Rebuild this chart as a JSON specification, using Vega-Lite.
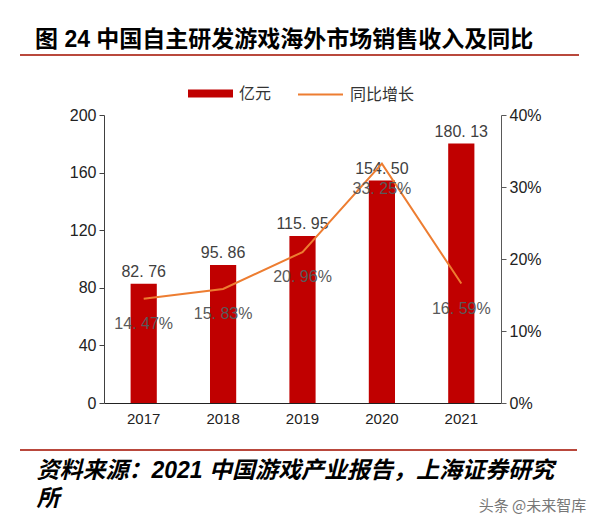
{
  "$schema": "https://vega.github.io/schema/vega-lite/v6.json",
  "width": 397,
  "height": 288,
  "autosize": {"type": "none"},
  "padding": {"left": 104, "top": 115, "right": 99, "bottom": 120},
  "background": "white",
  "config": {
    "font": "Liberation Sans, Noto Sans CJK SC",
    "view": {"stroke": null},
    "axis": {"grid": false}
  },
  "title": {
    "text": "图 24 中国自主研发游戏海外市场销售收入及同比",
    "anchor": "start",
    "frame": "group",
    "dx": -69,
    "offset": 2,
    "fontSize": 23,
    "fontWeight": "bold",
    "color": "#000000",
    "font": "Liberation Sans, Noto Sans CJK SC"
  },
  "data": {
    "values": [
      {"year": "2017", "rev": 82.76, "rl": "82. 76", "g": 0.1447, "gl": "14. 47%"},
      {"year": "2018", "rev": 95.86, "rl": "95. 86", "g": 0.1583, "gl": "15. 83%"},
      {"year": "2019", "rev": 115.95, "rl": "115. 95", "g": 0.2096, "gl": "20. 96%"},
      {"year": "2020", "rev": 154.5, "rl": "154. 50", "g": 0.3325, "gl": "33. 25%"},
      {"year": "2021", "rev": 180.13, "rl": "180. 13", "g": 0.1659, "gl": "16. 59%"}
    ]
  },
  "layer": [
    {
      "layer": [
        {
          "mark": {"type": "bar"},
          "encoding": {
            "x": {
              "field": "year",
              "type": "nominal",
              "scale": {"paddingInner": 0.67, "paddingOuter": 0.335},
              "axis": {
                "labelAngle": 0,
                "labelFontSize": 15,
                "labelColor": "#222222",
                "labelPadding": 8,
                "ticks": false,
                "domainColor": "#222222",
                "domainWidth": 1,
                "title": ["资料来源：2021  中国游戏产业报告，上海证券研究", "所"],
                "titleX": -68,
                "titleY": 67,
                "titleAlign": "left",
                "titleAnchor": "start",
                "titleBaseline": "middle",
                "titleFontSize": 23,
                "titleFontWeight": "bold",
                "titleFontStyle": "italic",
                "titleColor": "#000000",
                "titleLineHeight": 28
              }
            },
            "y": {
              "field": "rev",
              "type": "quantitative",
              "scale": {"domain": [0, 200]},
              "axis": {
                "values": [0, 40, 80, 120, 160, 200],
                "title": null,
                "labelFontSize": 16,
                "labelColor": "#222222",
                "labelPadding": 3,
                "tickSize": 5,
                "tickColor": "#404040",
                "domainColor": "#404040"
              }
            },
            "fill": {
              "datum": "亿元",
              "scale": {"range": ["#C00000"]},
              "legend": {
                "orient": "none",
                "legendX": 84,
                "legendY": -44,
                "title": null,
                "symbolType": "M-1,-0.18H1V0.18H-1Z",
                "symbolSize": 2025,
                "symbolStrokeWidth": 0,
                "labelFontSize": 16,
                "labelColor": "#333333",
                "labelFont": "Noto Sans CJK SC",
                "labelOffset": 6
              }
            }
          }
        },
        {
          "mark": {"type": "text", "dy": -12, "fontSize": 16, "color": "#404040"},
          "encoding": {
            "x": {"field": "year", "type": "nominal"},
            "y": {"field": "rev", "type": "quantitative"},
            "text": {"field": "rl"}
          }
        },
        {
          "data": {"values": [{"pos": "top"}]},
          "mark": {"type": "rule", "color": "#B9483C", "strokeWidth": 2},
          "encoding": {
            "x": {"value": -84},
            "x2": {"value": 475},
            "y": {"value": -60}
          }
        },
        {
          "data": {"values": [{"pos": "bottom"}]},
          "mark": {"type": "rule", "color": "#B9483C", "strokeWidth": 2},
          "encoding": {
            "x": {"value": -84},
            "x2": {"value": 473},
            "y": {"value": 335}
          }
        }
      ]
    },
    {
      "layer": [
        {
          "mark": {"type": "line", "strokeWidth": 2},
          "encoding": {
            "x": {"field": "year", "type": "nominal"},
            "y": {
              "field": "g",
              "type": "quantitative",
              "scale": {"domain": [0, 0.4]},
              "axis": {
                "orient": "right",
                "format": ".0%",
                "values": [0, 0.1, 0.2, 0.3, 0.4],
                "labelFontSize": 16,
                "labelColor": "#222222",
                "labelPadding": 3,
                "tickSize": 5,
                "tickColor": "#595959",
                "domainColor": "#595959",
                "title": "头条 @未来智库",
                "titleAngle": 0,
                "titleX": 31,
                "titleY": 390,
                "titleAlign": "center",
                "titleBaseline": "middle",
                "titleFontSize": 15,
                "titleFontWeight": "normal",
                "titleColor": "#777777",
                "titleFont": "Noto Sans CJK SC"
              }
            },
            "stroke": {
              "datum": "同比增长",
              "scale": {"range": ["#ED7D31"]},
              "legend": {
                "orient": "none",
                "legendX": 193,
                "legendY": -44,
                "title": null,
                "symbolType": "stroke",
                "symbolSize": 2025,
                "symbolStrokeWidth": 2,
                "labelFontSize": 16,
                "labelColor": "#333333",
                "labelFont": "Noto Sans CJK SC",
                "labelOffset": 6
              }
            }
          }
        },
        {
          "mark": {"type": "text", "dy": 25, "fontSize": 16, "color": "#595959"},
          "encoding": {
            "x": {"field": "year", "type": "nominal"},
            "y": {"field": "g", "type": "quantitative"},
            "text": {"field": "gl"}
          }
        }
      ]
    }
  ],
  "resolve": {"scale": {"y": "independent"}}
}
